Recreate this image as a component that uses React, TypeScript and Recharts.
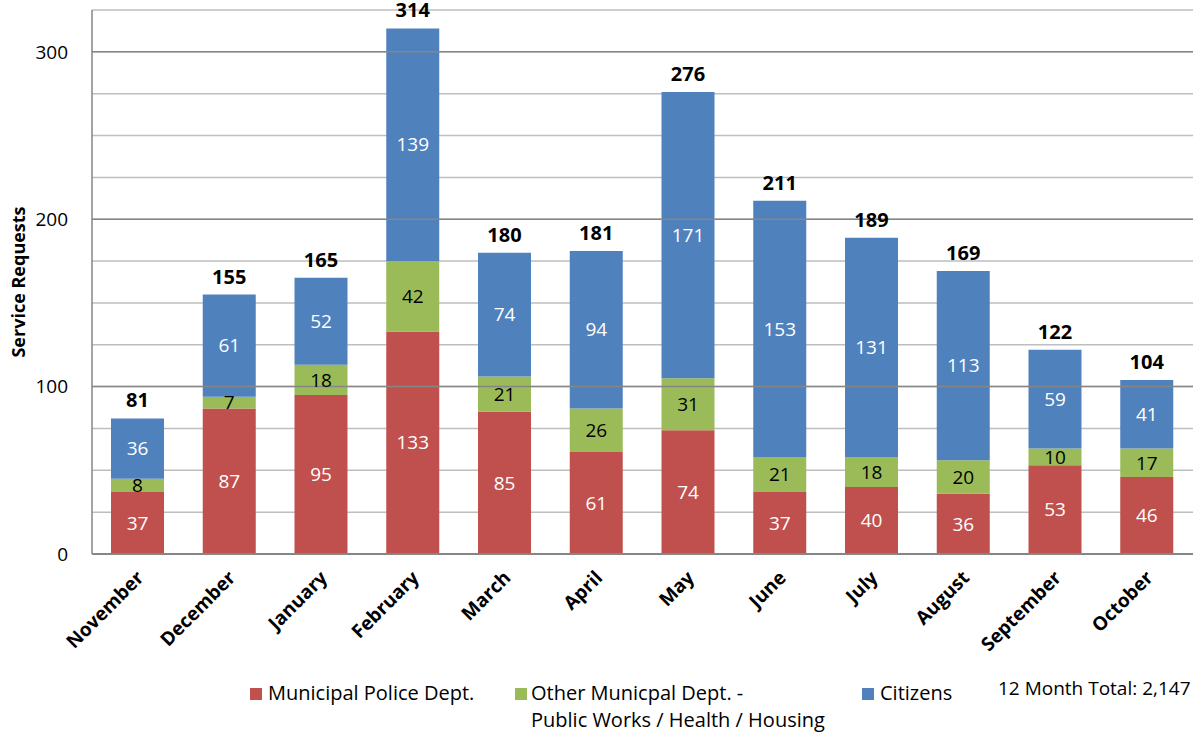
import { BarChart, Bar, XAxis, YAxis, CartesianGrid, LabelList, Legend, ReferenceLine } from "recharts";

const months = ["November", "December", "January", "February", "March", "April", "May", "June", "July", "August", "September", "October"];
const police = [37, 87, 95, 133, 85, 61, 74, 37, 40, 36, 53, 46];
const otherDept = [8, 7, 18, 42, 21, 26, 31, 21, 18, 20, 10, 17];
const citizens = [36, 61, 52, 139, 74, 94, 171, 153, 131, 113, 59, 41];
const yTicks = [0, 25, 50, 75, 100, 125, 150, 175, 200, 225, 250, 275, 300, 325];
const majorTicks = [100, 200, 300];
const yearTotal = "2,147";

const data = months.map((m, i) => ({
  month: m,
  police: police[i],
  other: otherDept[i],
  citizens: citizens[i],
  total: police[i] + otherDept[i] + citizens[i],
}));

const FONT = "'Open Sans', sans-serif";

const MonthTick = (props: any) => {
  const { x, y, payload } = props;
  const tx = x + 7;
  const ty = y + 17;
  return (
    <text
      x={tx}
      y={ty}
      transform={`rotate(-45 ${tx} ${ty})`}
      textAnchor="end"
      fontFamily={FONT}
      fontWeight="bold"
      fontSize={19}
      fill="#000"
    >
      {payload.value}
    </text>
  );
};

const YTitle = (props: any) => {
  const vb = props.viewBox;
  const cx = 18;
  const cy = vb.y + vb.height / 2;
  return (
    <text
      x={cx}
      y={cy}
      transform={`rotate(-90 ${cx} ${cy})`}
      textAnchor="middle"
      dominantBaseline="central"
      fontFamily={FONT}
      fontWeight="bold"
      fontSize={18}
      fill="#000"
    >
      Service Requests
    </text>
  );
};

const LegendBox = () => (
  <div style={{ position: "relative", width: 1193, height: 56, fontFamily: FONT, fontSize: 20, color: "#000", lineHeight: "27px" }}>
    <div style={{ position: "absolute", left: 250, top: 9, width: 12, height: 12, background: "#C0504D" }} />
    <div style={{ position: "absolute", left: 268, top: 0, whiteSpace: "nowrap" }}>Municipal Police Dept.</div>
    <div style={{ position: "absolute", left: 515, top: 9, width: 12, height: 12, background: "#9BBB59" }} />
    <div style={{ position: "absolute", left: 531, top: 0, whiteSpace: "nowrap" }}>
      Other Municpal Dept. -<br />Public Works / Health / Housing
    </div>
    <div style={{ position: "absolute", left: 862, top: 9, width: 12, height: 12, background: "#4F81BD" }} />
    <div style={{ position: "absolute", left: 880, top: 0, whiteSpace: "nowrap" }}>Citizens</div>
    <div style={{ position: "absolute", left: 998, top: -4, fontSize: 19, whiteSpace: "nowrap" }}>
      12 Month Total: {yearTotal}
    </div>
  </div>
);

export default function App() {
  return (
    <div style={{ position: "absolute", left: 0, top: 0, background: "#fff" }}>
      <BarChart
        width={1193}
        height={736}
        data={data}
        margin={{ top: 10, right: 0, bottom: 82, left: 30 }}
        barSize={53}
      >
        <CartesianGrid horizontal vertical={false} stroke="#BEBEBE" strokeWidth={1.5} />
        {majorTicks.map((t) => (
          <ReferenceLine key={t} y={t} stroke="#868686" strokeWidth={1.5} />
        ))}
        <XAxis
          dataKey="month"
          height={100}
          tick={<MonthTick />}
          tickLine={false}
          axisLine={{ stroke: "#868686", strokeWidth: 2 }}
          interval={0}
        />
        <YAxis
          width={62}
          domain={[0, 325]}
          ticks={yTicks}
          interval={0}
          tickLine={false}
          axisLine={{ stroke: "#868686", strokeWidth: 1.5 }}
          tickMargin={18}
          tickFormatter={(v: number) => (v % 100 === 0 ? String(v) : "")}
          tick={{ fontFamily: FONT, fontSize: 19, fill: "#000" }}
          label={<YTitle />}
        />
        <Legend
          verticalAlign="middle"
          align="center"
          layout="horizontal"
          wrapperStyle={{ position: "absolute", left: 0, top: 679, width: 1193 }}
          content={() => <LegendBox />}
        />
        <Bar dataKey="police" stackId="a" fill="#C0504D" isAnimationActive={false}>
          <LabelList dataKey="police" position="center" fill="#fff" fontFamily={FONT} fontSize={19} />
        </Bar>
        <Bar dataKey="other" stackId="a" fill="#9BBB59" isAnimationActive={false}>
          <LabelList dataKey="other" position="center" fill="#000" fontFamily={FONT} fontSize={19} />
        </Bar>
        <Bar dataKey="citizens" stackId="a" fill="#4F81BD" isAnimationActive={false}>
          <LabelList dataKey="citizens" position="center" fill="#fff" fontFamily={FONT} fontSize={19} />
          <LabelList dataKey="total" position="top" offset={11} fill="#000" fontFamily={FONT} fontWeight="bold" fontSize={20} />
        </Bar>
      </BarChart>
    </div>
  );
}
